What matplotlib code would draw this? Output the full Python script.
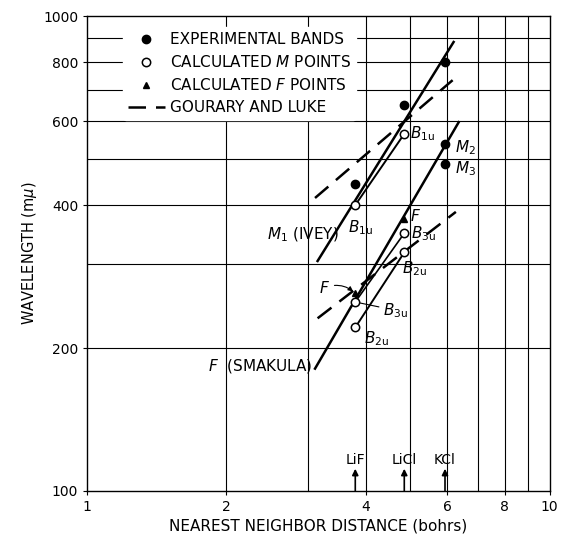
import matplotlib
matplotlib.use("Agg")
import matplotlib.pyplot as plt

plt.rcParams['font.family'] = ['DejaVu Sans']
plt.rcParams['mathtext.fontset'] = 'dejavusans'

# nearest neighbor distances (bohrs)
salts = ['LiF', 'LiCl', 'KCl']
salt_d = [3.80, 4.85, 5.94]

# experimental bands (m-mu)
exp_x = [3.80, 4.85, 5.94, 5.94, 5.94]
exp_y = [443, 650, 800, 538, 488]

# calculated M points
b1u_x = [3.80, 4.85]
b1u_y = [400, 565]
b3u_x = [3.80, 4.85]
b3u_y = [250, 349]
b2u_x = [3.80, 4.85]
b2u_y = [221, 318]

# calculated F points
f_x = [3.80, 4.85]
f_y = [261, 374]

# M1 (Ivey) and F (Smakula) lines
ivey_x = [3.15, 6.20]
ivey_y = [305, 882]
smakula_x = [3.11, 6.36]
smakula_y = [181, 598]

# Gourary and Luke (dashed)
gl1_x = [3.11, 6.17]
gl1_y = [414, 733]
gl2_x = [3.15, 6.27]
gl2_y = [231, 387]

fig = plt.figure(figsize=(5.62, 5.37), dpi=100)
ax = fig.add_subplot(111)
fig.subplots_adjust(left=0.155, right=0.978, top=0.970, bottom=0.0857)

ax.set_xscale('log')
ax.set_yscale('log')
ax.set_xlim(1, 10)
ax.set_ylim(100, 1000)

for v in range(2, 10):
    ax.axvline(v, color='black', lw=0.8, zorder=0)
for v in range(200, 1000, 100):
    ax.axhline(v, color='black', lw=0.8, zorder=0)

ax.set_xticks([1, 2, 4, 6, 8, 10])
ax.set_xticklabels(['1', '2', '4', '6', '8', '10'])
ax.set_xticks([], minor=True)
ax.set_yticks([100, 200, 400, 600, 800, 1000])
ax.set_yticklabels(['100', '200', '400', '600', '800', '1000'])
ax.set_yticks([], minor=True)
ax.tick_params(length=3, labelsize=10, colors='black')
for s in ax.spines.values():
    s.set_linewidth(1.0)

lw = 1.8
ax.plot(ivey_x, ivey_y, color='black', lw=lw)
ax.plot(smakula_x, smakula_y, color='black', lw=lw)
ax.plot(b1u_x, b1u_y, color='black', lw=1.4)
ax.plot(b3u_x, b3u_y, color='black', lw=1.2)
ax.plot(b2u_x, b2u_y, color='black', lw=1.4)
ax.plot(gl1_x, gl1_y, color='black', lw=lw, dashes=(7, 4))
ax.plot(gl2_x, gl2_y, color='black', lw=lw, dashes=(7, 4))

ax.plot(exp_x, exp_y, 'o', color='black', ms=6, label='EXPERIMENTAL BANDS', zorder=5)
ax.plot(b1u_x + b3u_x + b2u_x, b1u_y + b3u_y + b2u_y, 'o', mfc='white', mec='black',
        mew=1.1, ms=6, label='CALCULATED $\\mathit{M}$ POINTS', zorder=6)
ax.plot(f_x, f_y, '^', color='black', ms=5, label='CALCULATED $\\mathit{F}$ POINTS', zorder=5)
ax.plot([], [], color='black', lw=lw, dashes=(7, 4), label='GOURARY AND LUKE')

leg = ax.legend(loc='upper left', bbox_to_anchor=(0.06, 0.993), fontsize=11,
                frameon=True, facecolor='white', edgecolor='white', framealpha=1,
                handlelength=2.4, handletextpad=0.35, labelspacing=0.45, borderpad=0.35)
leg.set_zorder(10)

fs = 11
def B(sub):
    return '$\\mathit{B}_{\\mathrm{' + sub + '}}$'

ax.annotate(B('1u'), (b1u_x[1], b1u_y[1]), xytext=(4, 0), textcoords='offset points',
            ha='left', va='center', fontsize=fs)
ax.annotate(B('1u'), (b1u_x[0], b1u_y[0]), xytext=(-5, -16), textcoords='offset points',
            ha='left', va='center', fontsize=fs)
ax.annotate('$\\mathit{F}$', (f_x[1], f_y[1]), xytext=(4, 2), textcoords='offset points',
            ha='left', va='center', fontsize=fs)
ax.annotate(B('3u'), (b3u_x[1], b3u_y[1]), xytext=(5, 0), textcoords='offset points',
            ha='left', va='center', fontsize=fs)
ax.annotate(B('2u'), (b2u_x[1], b2u_y[1]), xytext=(-2, -12), textcoords='offset points',
            ha='left', va='center', fontsize=fs)
ax.annotate(B('2u'), (b2u_x[0], b2u_y[0]), xytext=(6, -8), textcoords='offset points',
            ha='left', va='center', fontsize=fs)
ax.annotate('$\\mathit{F}$', (f_x[0], f_y[0]), xytext=(-18, 4), textcoords='offset points',
            ha='right', va='center', fontsize=fs,
            arrowprops=dict(arrowstyle='-|>', color='black', lw=0.8,
                            connectionstyle='arc3,rad=-0.3', shrinkA=1, shrinkB=2,
                            mutation_scale=7))
ax.annotate(B('3u'), (b3u_x[0], b3u_y[0]), xytext=(20, -6), textcoords='offset points',
            ha='left', va='center', fontsize=fs,
            arrowprops=dict(arrowstyle='-', color='black', lw=0.8, shrinkA=1, shrinkB=3))
ax.annotate('$\\mathit{M}_{1}$ (IVEY)', (ivey_x[0], ivey_y[0]), xytext=(15, 19),
            textcoords='offset points', ha='right', va='center', fontsize=fs)
ax.annotate('$\\mathit{F}$  (SMAKULA)', (smakula_x[0], smakula_y[0]), xytext=(-2, 2),
            textcoords='offset points', ha='right', va='center', fontsize=fs)
ax.annotate('$\\mathit{M}_{2}$', (exp_x[3], exp_y[3]), xytext=(7, -3),
            textcoords='offset points', ha='left', va='center', fontsize=fs)
ax.annotate('$\\mathit{M}_{3}$', (exp_x[4], exp_y[4]), xytext=(7, -3),
            textcoords='offset points', ha='left', va='center', fontsize=fs)

for name, d in zip(salts, salt_d):
    ax.annotate('', xy=(d, 100), xytext=(0, 16), textcoords='offset points',
                arrowprops=dict(arrowstyle='<|-', color='black', lw=1.2,
                                mutation_scale=9, shrinkA=0, shrinkB=0))
    ax.annotate(name, (d, 100), xytext=(0, 22), textcoords='offset points',
                ha='center', va='center', fontsize=10)

ax.set_xlabel('NEAREST NEIGHBOR DISTANCE (bohrs)', fontsize=11, labelpad=3)
ax.set_ylabel('WAVELENGTH (m$\\mu$)', fontsize=10.5, labelpad=3)

fig.savefig('out.png', dpi=100)
